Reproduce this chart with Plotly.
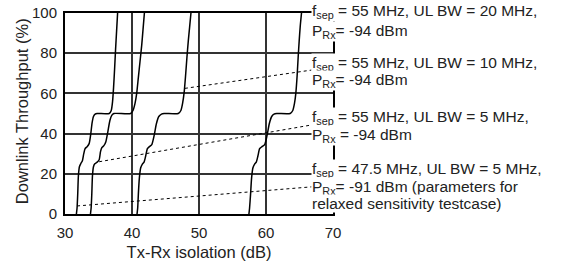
import plotly.graph_objects as go

# ---- data ----
# curve: fsep = 47.5 MHz, UL BW = 5 MHz, PRx = -91 dBm (relaxed)
xA = [31.7, 31.8, 31.9, 32.0, 32.15, 32.35, 32.6, 32.8, 33.0, 33.3, 33.6, 33.85,
      34.05, 34.25, 34.5, 34.8, 36.6, 36.9, 37.1, 37.25, 37.4, 37.55, 37.7, 37.85]
yA = [0, 3, 10, 19, 23.5, 25, 26.5, 30, 32.5, 33.5, 35, 40,
      45.5, 48.5, 49.7, 50, 50, 51.5, 56, 63, 72, 82, 91, 100]
# curve: fsep = 55 MHz, UL BW = 5 MHz
xB = [33.8, 33.9, 34.0, 34.1, 34.25, 34.45, 34.8, 35.1, 35.3, 35.5, 35.8, 36.1, 36.4,
      36.7, 37.0, 37.3, 39.8, 40.15, 40.45, 40.7, 40.95, 41.2, 41.45, 41.65, 41.85]
yB = [0, 3, 10, 19, 23.5, 25, 25.8, 27, 31, 33, 34, 36, 41,
      46.5, 49.2, 50, 50, 51.5, 55, 60, 68, 76, 84, 92, 100]
# curve: fsep = 55 MHz, UL BW = 10 MHz
xC = [40.75, 40.85, 40.95, 41.1, 41.3, 41.55, 41.8, 42.05, 42.3, 42.6, 42.95, 43.3, 43.65,
      44.0, 44.4, 44.8, 46.9, 47.3, 47.55, 47.8, 48.0, 48.2, 48.4, 48.6, 48.8]
yC = [0, 3, 10, 18, 23, 24.8, 25.8, 29, 32.5, 33.5, 34.5, 39, 45,
      48.5, 49.7, 50, 50, 51.5, 55, 61, 69, 78, 86, 93, 100]
# curve: fsep = 55 MHz, UL BW = 20 MHz
xD = [57.45, 57.55, 57.7, 57.85, 58.05, 58.3, 58.55, 58.8, 59.05, 59.4, 59.8, 60.15, 60.5,
      60.85, 61.2, 61.6, 63.6, 64.0, 64.25, 64.45, 64.65, 64.8, 64.95, 65.1, 65.3]
yD = [0, 3, 10, 18, 23, 24.8, 25.8, 29, 32.5, 33.5, 34.5, 39, 45,
      48.5, 49.7, 50, 50, 51.5, 55, 60, 69, 78, 86, 93, 100]

# dotted leader lines (curve point -> label)
lead10_x = [47.9, 66.8]
lead10_y = [62.5, 71.6]
lead5_x = [35.1, 66.8]
lead5_y = [26.0, 44.3]
leadRel_x = [31.8, 66.8]
leadRel_y = [4.0, 13.5]

x_ticks = [30, 40, 50, 60, 70]
y_ticks = [0, 20, 40, 60, 80, 100]

# label lines and their vertical positions (fraction of plot height)
label_lines = [
    ("f<sub>sep</sub> = 55 MHz, UL BW = 20 MHz,", 1.005),
    ("P<sub>Rx</sub>= -94 dBm", 0.91),
    ("f<sub>sep</sub> = 55 MHz, UL BW = 10 MHz,", 0.751),
    ("P<sub>Rx</sub>= -94 dBm", 0.662),
    ("f<sub>sep</sub> = 55 MHz, UL BW = 5 MHz,", 0.478),
    ("P<sub>Rx</sub> = -94 dBm", 0.393),
    ("f<sub>sep</sub> = 47.5 MHz, UL BW = 5 MHz,", 0.219),
    ("P<sub>Rx</sub>= -91 dBm (parameters for", 0.134),
    ("relaxed sensitivity testcase)", 0.05),
]
label_x = 66.75

FONT = "Liberation Sans, Arial, sans-serif"

fig = go.Figure()
for xs, ys in [(xA, yA), (xB, yB), (xC, yC), (xD, yD)]:
    fig.add_trace(go.Scatter(x=xs, y=ys, mode="lines",
                             line=dict(color="black", width=1.5, shape="spline", smoothing=0.6),
                             showlegend=False, hoverinfo="skip"))
for xs, ys in [(lead10_x, lead10_y), (lead5_x, lead5_y), (leadRel_x, leadRel_y)]:
    fig.add_trace(go.Scatter(x=xs, y=ys, mode="lines",
                             line=dict(color="black", width=1, dash="dot"),
                             showlegend=False, hoverinfo="skip"))

for txt, yy in label_lines:
    fig.add_annotation(x=label_x, y=yy, xref="x", yref="paper", text=txt,
                       showarrow=False, xanchor="left", yanchor="middle",
                       align="left", bgcolor="white", borderpad=0,
                       font=dict(family=FONT, size=15.5, color="#222"))

# y-axis title placed as rotated text
fig.add_annotation(x=-0.16, y=0.512, xref="paper", yref="paper",
                   text="Downlink Throughput (%)", textangle=-90, showarrow=False,
                   xanchor="center", yanchor="middle",
                   font=dict(family=FONT, size=16.5, color="#222"))

fig.update_layout(
    width=561, height=266,
    margin=dict(l=65, r=228, t=13, b=52, autoexpand=False),
    paper_bgcolor="white", plot_bgcolor="white",
    font=dict(family=FONT, size=15, color="#222"),
)
fig.update_xaxes(range=[30, 70], tickvals=x_ticks, ticktext=[str(v) for v in x_ticks],
                 showgrid=True, gridcolor="#333333", gridwidth=1.5,
                 showline=True, linecolor="black", linewidth=2, mirror=True,
                 zeroline=False, ticks="", ticklabelstandoff=4, automargin=False,
                 title=dict(text="Tx-Rx isolation (dB)", font=dict(size=16.5), standoff=6))
fig.update_yaxes(range=[0, 100], tickvals=y_ticks, ticktext=[str(v) for v in y_ticks],
                 showgrid=True, gridcolor="#333333", gridwidth=1.5,
                 showline=True, linecolor="black", linewidth=2, mirror=True,
                 zeroline=False, ticks="", ticklabelstandoff=3, automargin=False)

fig.write_html("out.html", config={"displayModeBar": False},
               post_script="document.body.style.margin='0';")
